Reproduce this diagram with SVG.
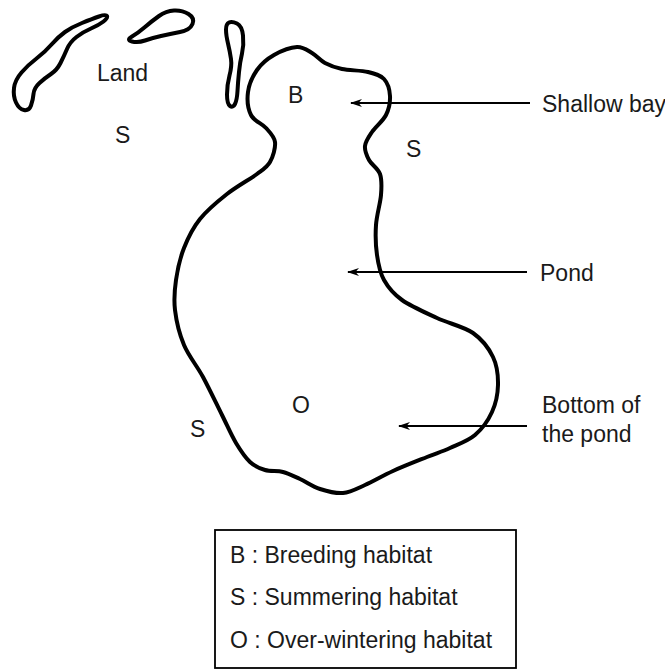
<svg xmlns="http://www.w3.org/2000/svg" width="665" height="670" viewBox="0 0 665 670">
<defs>
<style>
.outline{fill:none;stroke:#000;stroke-width:4;stroke-linejoin:round}
.conn{fill:none;stroke:#000;stroke-width:1.8}
.lbl{font-family:"Liberation Sans",Arial,sans-serif;font-size:23px;fill:#1a1a1a}
.box{fill:#fff;stroke:#000;stroke-width:1.8}
</style>
<marker id="arr" viewBox="0 0 12 8" refX="11" refY="4" markerWidth="12" markerHeight="8" markerUnits="userSpaceOnUse" orient="auto">
<path d="M12,4 L0,0 L3.5,4 L0,8 Z" fill="#000"/>
</marker>
</defs>
<rect width="665" height="670" fill="#fff"/>
<g id="land-1">
<path class="outline" d="M107,16 Q106,14 99,16.5 Q92,19 82,23 Q72,27 65,32 Q58,37 51.5,44.5 Q45,52 36.5,58.5 Q28,65 21.5,72.5 Q15,80 14,88 Q13,96 16,102.5 Q19,109 24,110 Q29,111 31,105.5 Q33,100 33.5,94 Q34,88 39.5,83 Q45,78 51,74 Q57,70 60.5,63 Q64,56 67,49 Q70,42 76.5,37 Q83,32 91,28.5 Q99,25 103.5,21.5 Q108,18 107,16 Z"/>
</g>
<g id="land-2">
<path class="outline" d="M132,36.5 Q138,33 145,27 Q152,21 159,16 Q166,11 174,10.5 Q182,10 188.5,14 Q195,18 192.5,24 Q190,30 180,32 Q170,34 161,36 Q152,38 145,40.5 Q138,43 132,41.5 Q126,40 132,36.5 Z"/>
</g>
<g id="land-3">
<path class="outline" d="M229,22.5 Q232,21 237,23.5 Q242,26 243,35.5 Q244,45 242,53.5 Q240,62 239,72 Q238,82 237.5,91 Q237,100 235,104 Q233,108 230,106 Q227,104 227,94.5 Q227,85 229.5,75.5 Q232,66 231,59 Q230,52 228,43.5 Q226,35 226,29.5 Q226,24 229,22.5 Z"/>
</g>
<g id="pond">
<path class="outline" d="M297,47 C303.3,46.7 307.3,50.3 312,53 C316.7,55.7 320,60.3 325,63 C330,65.7 334.8,67.5 342,69 C349.2,70.5 361,70.3 368,72 C375,73.7 380.3,75 384,79 C387.7,83 389.7,90 390,96 C390.3,102 389,109 386,115 C383,121 375.5,126.8 372,132 C368.5,137.2 365.5,141.3 365,146 C364.5,150.7 366.5,155.3 369,160 C371.5,164.7 378,168.2 380,174 C382,179.8 381.7,186.5 381,195 C380.3,203.5 376.7,215 376,225 C375.3,235 375.7,245.8 377,255 C378.3,264.2 379.8,272.5 384,280 C388.2,287.5 393.2,293.7 402,300 C410.8,306.3 425.2,312.5 437,318 C448.8,323.5 463.7,326.5 473,333 C482.3,339.5 488.8,348.3 493,357 C497.2,365.7 498.2,375.8 498,385 C497.8,394.2 495.8,403.7 492,412 C488.2,420.3 482,429 475,435 C468,441 458,444.3 450,448 C442,451.7 436.5,453.2 427,457 C417.5,460.8 403.3,466.3 393,471 C382.7,475.7 373.3,481.3 365,485 C356.7,488.7 350.5,492.3 343,493 C335.5,493.7 327.2,491.3 320,489 C312.8,486.7 306.2,481.8 300,479 C293.8,476.2 288.8,473.5 283,472 C277.2,470.5 270.5,471.7 265,470 C259.5,468.3 254.8,466.5 250,462 C245.2,457.5 240.7,450.8 236,443 C231.3,435.2 227.5,426 222,415 C216.5,404 209.3,388.7 203,377 C196.7,365.3 188.7,356.2 184,345 C179.3,333.8 176.3,320.8 175,310 C173.7,299.2 174.5,290.3 176,280 C177.5,269.7 180,258.2 184,248 C188,237.8 192.8,228 200,219 C207.2,210 217.5,201.5 227,194 C236.5,186.5 249.8,179.3 257,174 C264.2,168.7 267,167.3 270,162 C273,156.7 275.7,147.7 275,142 C274.3,136.3 270,132.5 266,128 C262,123.5 254,121 251,115 C248,109 247,99.5 248,92 C249,84.5 252.7,76.2 257,70 C261.3,63.8 267.3,58.8 274,55 C280.7,51.2 290.7,47.3 297,47 Z"/>
</g>
<g id="labels">
<text class="lbl" x="97" y="81">Land</text>
<text class="lbl" x="115" y="143">S</text>
<text class="lbl" x="288" y="103">B</text>
<text class="lbl" x="406" y="157">S</text>
<text class="lbl" x="292" y="413">O</text>
<text class="lbl" x="190" y="437">S</text>
</g>
<g id="label-shallow-bay"><text class="lbl" x="542" y="112">Shallow bay</text></g>
<g id="label-pond"><text class="lbl" x="540" y="281">Pond</text></g>
<g id="label-bottom"><text class="lbl" x="542" y="413">Bottom of</text><text class="lbl" x="542" y="442">the pond</text></g>
<g id="connectors">
<line class="conn" x1="530" y1="103" x2="351" y2="103" marker-end="url(#arr)"/>
<line class="conn" x1="527" y1="272" x2="348" y2="272" marker-end="url(#arr)"/>
<line class="conn" x1="527" y1="426" x2="399" y2="426" marker-end="url(#arr)"/>
</g>
<g id="legend">
<rect class="box" x="215" y="530" width="301" height="138"/>
<text class="lbl" x="230" y="563">B : Breeding habitat</text>
<text class="lbl" x="230" y="605">S : Summering habitat</text>
<text class="lbl" x="230" y="648">O : Over-wintering habitat</text>
</g>
</svg>
